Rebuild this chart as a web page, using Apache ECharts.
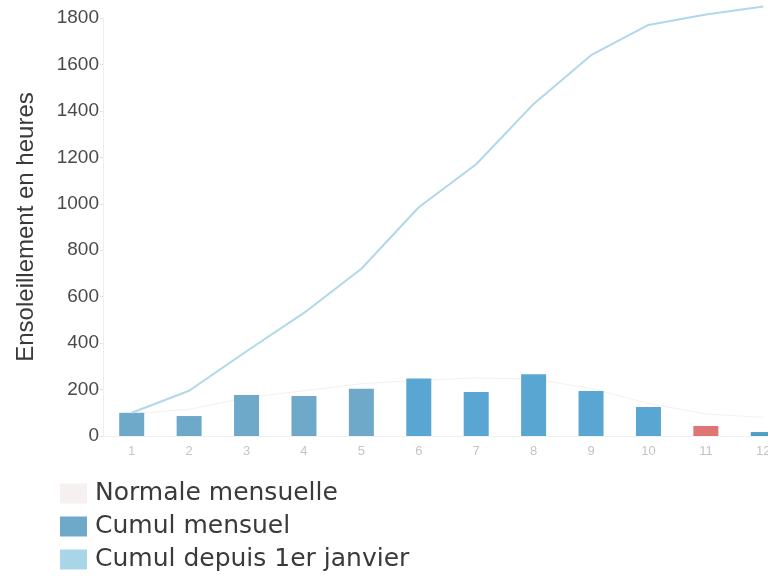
<!DOCTYPE html>
<html>
<head>
<meta charset="utf-8">
<script src="https://cdn.jsdelivr.net/npm/echarts@6/dist/echarts.min.js"></script>
<style>html,body{margin:0;padding:0;background:#fff;overflow:hidden}#c{width:792px;height:584px}</style>
</head>
<body>
<div id="c"></div>
<script>
const months = ['1','2','3','4','5','6','7','8','9','10','11','12'];
const yTicks = [0,200,400,600,800,1000,1200,1400,1600,1800];
const monthly = [100, 86, 177, 172, 203, 248, 190, 266, 194, 125, 43, 17];
const cumul = [100, 195, 365, 530, 720, 985, 1170, 1430, 1640, 1770, 1815, 1850];
const normale = [95, 115, 165, 195, 225, 240, 250, 245, 205, 140, 95, 80];
const barColors = ['#6fa9c9','#6fa9c9','#6fa9c9','#6fa9c9','#6fa9c9','#5aa6d2','#5aa6d2','#5aa6d2','#5aa6d2','#5aa6d2','#de7474','#4f9cc4'];

const chart = echarts.init(document.getElementById('c'));
chart.setOption({
  animation: false,
  backgroundColor: '#fff',
  grid: {left: 103, top: 18, right: 0, height: 418},
  legend: {
    orient: 'vertical', left: 55, top: 476,
    itemWidth: 27, itemHeight: 20, itemGap: 8,
    textStyle: {fontSize: 25, color: '#3a3a3a', fontFamily: 'DejaVu Sans', padding: [0, 0, 0, 3]},
    data: [
      {name: 'Normale mensuelle', icon: 'rect', itemStyle: {color: '#f7f0f0'}},
      {name: 'Cumul mensuel', icon: 'rect', itemStyle: {color: '#6fa9c9'}},
      {name: 'Cumul depuis 1er janvier', icon: 'rect', itemStyle: {color: '#a9d5e8'}}
    ]
  },
  xAxis: {
    type: 'category', data: months,
    axisLine: {lineStyle: {color: '#eef2f5'}},
    axisTick: {show: false},
    axisLabel: {color: '#c4c4c4', fontSize: 13, margin: 9, fontFamily: 'Liberation Sans'}
  },
  yAxis: {
    type: 'value', min: 0, max: 1800, interval: 200,
    name: 'Ensoleillement en heures', nameLocation: 'middle', nameGap: 65,
    nameTextStyle: {fontSize: 24, color: '#3a3a3a', fontFamily: 'Liberation Sans'},
    axisLine: {show: true, lineStyle: {color: '#e8eff5'}},
    axisTick: {show: true, length: 3, lineStyle: {color: '#f0dada'}},
    splitLine: {show: false},
    axisLabel: {color: '#4a4a4a', fontSize: 19, margin: 4, fontFamily: 'Liberation Sans',
      formatter: v => yTicks.includes(v) ? String(v) : ''}
  },
  series: [
    {
      name: 'Normale mensuelle', type: 'line', data: normale,
      symbol: 'none', lineStyle: {color: '#f8efef', width: 1}, itemStyle: {color: '#f7f0f0'},
      z: 1
    },
    {
      name: 'Cumul mensuel', type: 'bar', data: monthly.map((v, i) => ({value: v, itemStyle: {color: barColors[i]}})),
      barWidth: 25, itemStyle: {color: '#6fa9c9'}, z: 2
    },
    {
      name: 'Cumul depuis 1er janvier', type: 'line', data: cumul, clip: false,
      symbol: 'none', smooth: false,
      lineStyle: {color: '#b0d8ea', width: 2}, itemStyle: {color: '#a9d5e8'}, z: 3
    }
  ]
});
</script>
</body>
</html>
